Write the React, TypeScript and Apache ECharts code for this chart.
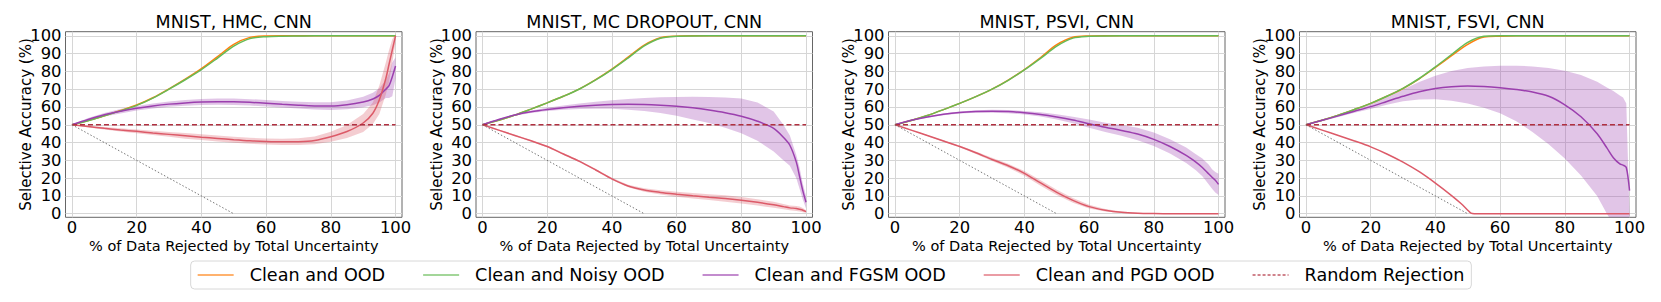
import React, { useEffect, useRef } from 'react';
import * as echarts from 'echarts';

const FONT = 'DejaVu Sans';
const TITLES = ['MNIST, HMC, CNN', 'MNIST, MC DROPOUT, CNN', 'MNIST, PSVI, CNN', 'MNIST, FSVI, CNN'];
const NAMES = ['Clean and OOD', 'Clean and Noisy OOD', 'Clean and FGSM OOD', 'Clean and PGD OOD', 'Random Rejection'];
const X_LABEL = '% of Data Rejected by Total Uncertainty';
const Y_LABEL = 'Selective Accuracy (%)';
const X_TICKS = [0, 20, 40, 60, 80, 100];
const Y_TICKS = [0, 10, 20, 30, 40, 50, 60, 70, 80, 90, 100];

const X = [0, 5, 10, 15, 20, 25, 30, 35, 40, 45, 50, 55, 60, 65, 70, 75, 80, 85, 90, 93, 95, 97, 98, 99, 100];

// HMC
const HMC_ORANGE = [50, 52.4, 55.1, 58, 61.1, 65.2, 70.2, 75.6, 81.5, 88.3, 95.2, 99.1, 99.9, 100, 100, 100, 100, 100, 100, 100, 100, 100, 100, 100, 100];
const HMC_GREEN = [50, 52.3, 55, 57.8, 60.9, 65, 70, 75.3, 81, 87.5, 94.2, 98.4, 99.5, 99.8, 99.9, 100, 100, 100, 100, 100, 100, 100, 100, 100, 100];
const HMC_FGSM = [50, 53, 55.6, 57.6, 59.3, 60.6, 61.6, 62.3, 62.8, 63, 62.9, 62.6, 62.1, 61.5, 61, 60.6, 60.5, 61.2, 62.8, 64.5, 66.5, 70, 72, 77, 83];
const HMC_FGSM_LO = [50, 52.2, 54.6, 56.4, 58, 59.2, 60.1, 60.7, 61.1, 61.2, 61.1, 60.8, 60.3, 59.7, 59.1, 58.6, 58.3, 58.7, 59.8, 61, 62.5, 65, 65, 66, 76];
const HMC_FGSM_HI = [50, 53.8, 56.6, 58.8, 60.6, 62, 63.1, 63.9, 64.5, 64.8, 64.7, 64.4, 63.9, 63.3, 62.9, 62.6, 62.7, 63.7, 65.8, 68, 70.5, 75, 79, 85, 88];
const HMC_PGD = [50, 49, 48, 47.1, 46.3, 45.4, 44.6, 43.8, 43, 42.3, 41.6, 41, 40.6, 40.4, 40.5, 41.2, 43.3, 46.2, 51, 56.5, 64, 76, 84, 92, 100];
const HMC_PGD_LO = [50, 48.5, 47.3, 46.2, 45.2, 44.2, 43.2, 42.2, 41.4, 40.6, 39.9, 39.3, 38.9, 38.6, 38.6, 39, 40.5, 42.5, 46, 50.5, 56, 67, 74, 85, 96];
const HMC_PGD_HI = [50, 49.5, 48.7, 48, 47.4, 46.6, 46, 45.4, 44.7, 44, 43.3, 42.7, 42.3, 42.2, 42.4, 43.4, 46.1, 49.9, 56, 62.5, 72, 85, 92, 98, 101];

// MC Dropout
const MCD_ORANGE = [50, 52.5, 55.4, 58.8, 62.3, 66, 70.2, 75.4, 81.3, 88, 94.8, 98.9, 99.8, 100, 100, 100, 100, 100, 100, 100, 100, 100, 100, 100, 100];
const MCD_GREEN = [50, 52.5, 55.4, 58.8, 62.3, 66, 70.1, 75.2, 81, 87.5, 94.3, 98.6, 99.7, 99.9, 100, 100, 100, 100, 100, 100, 100, 100, 100, 100, 100];
const MCD_FGSM = [50, 53, 55.5, 57.3, 58.6, 59.6, 60.4, 61, 61.4, 61.5, 61.4, 61, 60.4, 59.5, 58.3, 56.8, 54.8, 52, 48, 43, 38.5, 29, 21, 13, 6.5];
const MCD_FGSM_LO = [50, 52.7, 55, 56.6, 57.7, 58.4, 58.8, 59, 59, 58.5, 57.8, 56.6, 55, 53, 51, 48.3, 45.3, 41, 35, 30, 27, 20, 14, 8, 3];
const MCD_FGSM_HI = [50, 53.3, 56, 58, 59.5, 60.8, 62, 63, 63.8, 64.5, 65, 65.4, 65.6, 65.7, 65.6, 65.3, 64.8, 62.5, 57.5, 50, 44, 33, 26, 17, 10];
const MCD_PGD = [50, 47, 44, 41, 37.8, 33.6, 29.4, 24.6, 19.6, 15.6, 13.3, 12, 11, 10.1, 9.3, 8.6, 7.6, 6.4, 5, 4, 3.3, 3, 2.5, 2, 1.2];
const MCD_PGD_LO = [50, 46.7, 43.6, 40.6, 37.3, 33.1, 28.9, 24.1, 19, 14.9, 12.3, 10.8, 9.6, 8.6, 7.7, 6.8, 5.8, 4.6, 3.3, 2.5, 2, 1.6, 1.2, 0.8, 0.5];
const MCD_PGD_HI = [50, 47.3, 44.4, 41.4, 38.3, 34.1, 29.9, 25.1, 20.2, 16.3, 14.3, 13.2, 12.4, 11.6, 10.9, 10.4, 9.4, 8.2, 6.7, 5.5, 4.6, 4.4, 4, 3.2, 2];

// PSVI
const PSVI_ORANGE = [50, 52.4, 55.2, 58.5, 62, 65.8, 70, 75.1, 81, 87.8, 95, 99.2, 99.9, 100, 100, 100, 100, 100, 100, 100, 100, 100, 100, 100, 100];
const PSVI_GREEN = [50, 52.4, 55.2, 58.5, 62, 65.8, 70, 75, 80.8, 87.3, 94.2, 98.7, 99.7, 99.9, 100, 100, 100, 100, 100, 100, 100, 100, 100, 100, 100];
const PSVI_FGSM = [50, 52.5, 54.4, 55.9, 56.9, 57.4, 57.6, 57.4, 56.8, 55.8, 54.4, 52.7, 50.6, 48.6, 46.8, 44.8, 41.8, 37.8, 32.8, 29, 26, 22.3, 20.5, 18.8, 16.5];
const PSVI_FGSM_LO = [50, 52.2, 54, 55.4, 56.3, 56.7, 56.8, 56.5, 55.8, 54.6, 52.9, 50.9, 48.3, 46, 43.8, 41.3, 38, 33.8, 28.5, 24.5, 21, 16.5, 14, 12, 10.5];
const PSVI_FGSM_HI = [50, 52.8, 54.8, 56.4, 57.5, 58.1, 58.4, 58.3, 57.8, 57, 55.9, 54.5, 52.9, 51.2, 49.8, 48.3, 45.6, 41.8, 37.2, 33.5, 31, 27.5, 25, 23.5, 22.5];
const PSVI_PGD = [50, 47, 44, 40.9, 37.8, 34.3, 30.5, 27, 22.7, 17.3, 12, 7.5, 4, 2, 0.8, 0.3, 0.1, 0, 0, 0, 0, 0, 0, 0, 0];
const PSVI_PGD_LO = [50, 46.8, 43.7, 40.5, 37.3, 33.6, 29.6, 25.9, 21.4, 15.8, 10.5, 6.2, 3, 1.3, 0.4, 0.1, 0, 0, 0, 0, 0, 0, 0, 0, 0];
const PSVI_PGD_HI = [50, 47.2, 44.3, 41.3, 38.3, 35, 31.4, 28.1, 24, 18.8, 13.5, 8.8, 5, 2.7, 1.2, 0.5, 0.2, 0.1, 0, 0, 0, 0, 0, 0, 0];

// FSVI
const FSVI_ORANGE = [50, 52.5, 55.4, 58.6, 62, 66, 70.4, 75.8, 82.2, 88.8, 95.2, 99.3, 99.8, 100, 100, 100, 100, 100, 100, 100, 100, 100, 100, 100, 100];
const FSVI_GREEN = [50, 52.5, 55.4, 58.6, 62, 66, 70.5, 76, 82.5, 89.5, 96.3, 99.7, 100, 100, 100, 100, 100, 100, 100, 100, 100, 100, 100, 100, 100];
const FSVI_FGSM = [50, 52.5, 55, 57.6, 60.2, 63.1, 66, 68.6, 70.4, 71.4, 71.8, 71.5, 70.8, 69.8, 68.4, 66, 61.2, 54.5, 45, 37, 31.5, 28, 27.3, 26, 13];
const FSVI_FGSM_LO = [50, 52, 54.4, 56.7, 58.9, 61.2, 63.2, 64.2, 64.3, 63.5, 62, 59.5, 56.5, 52, 46, 39, 31, 21.5, 10, 0, -6, -12, -15, -18, -20];
const FSVI_FGSM_HI = [50, 53, 55.7, 58.6, 61.6, 65.4, 69.8, 74, 77.5, 80.2, 81.9, 82.8, 83.2, 83.2, 82.8, 81.9, 80.3, 78, 74.2, 71, 69, 66.5, 65.3, 62, 0];
const FSVI_PGD_X = [0, 5, 10, 15, 20, 25, 30, 35, 40, 45, 48, 50, 51, 52, 60, 70, 80, 90, 100];
const FSVI_PGD = [50, 47, 44, 40.9, 37.6, 33.6, 29, 23.6, 17.2, 10.2, 5.6, 2, 0.3, 0, 0, 0, 0, 0, 0];

const ORACLE_X = [0, 50];
const ORACLE_Y = [50, 0];
const RANDOM_X = [0, 100];
const RANDOM_Y = [50, 50];

const PANELS = [
  { orange: HMC_ORANGE, green: HMC_GREEN, fgsm: HMC_FGSM, fgsmLo: HMC_FGSM_LO, fgsmHi: HMC_FGSM_HI, pgdX: X, pgd: HMC_PGD, pgdLo: HMC_PGD_LO, pgdHi: HMC_PGD_HI },
  { orange: MCD_ORANGE, green: MCD_GREEN, fgsm: MCD_FGSM, fgsmLo: MCD_FGSM_LO, fgsmHi: MCD_FGSM_HI, pgdX: X, pgd: MCD_PGD, pgdLo: MCD_PGD_LO, pgdHi: MCD_PGD_HI },
  { orange: PSVI_ORANGE, green: PSVI_GREEN, fgsm: PSVI_FGSM, fgsmLo: PSVI_FGSM_LO, fgsmHi: PSVI_FGSM_HI, pgdX: X, pgd: PSVI_PGD, pgdLo: PSVI_PGD_LO, pgdHi: PSVI_PGD_HI },
  { orange: FSVI_ORANGE, green: FSVI_GREEN, fgsm: FSVI_FGSM, fgsmLo: FSVI_FGSM_LO, fgsmHi: FSVI_FGSM_HI, pgdX: FSVI_PGD_X, pgd: FSVI_PGD, pgdLo: null, pgdHi: null },
];

const C_ORANGE = '#ff7f0e';
const C_GREEN = '#66bb55';
const C_PURPLE = '#9b3fae';
const C_PINK = '#dc5a68';
const C_RANDOM = '#b03040';
const C_ORACLE = '#777777';

const GRID_LEFTS = [65.5, 476, 888.5, 1299.5];
const GRID_W = 336.5;
const GRID_TOP = 31.7;
const GRID_H = 185.6;

const pairs = (xs: number[], ys: number[]) => xs.map((x, i) => [x, ys[i]]);

function bandSeries(i: number, name: string, xs: number[], lo: number[], hi: number[], color: string) {
  return {
    type: 'custom',
    name,
    xAxisIndex: i,
    yAxisIndex: i,
    clip: true,
    silent: true,
    data: xs.map((x, k) => [x, lo[k], hi[k]]),
    encode: { x: 0, y: [1, 2] },
    renderItem: (params: any, api: any) => {
      if (params.dataIndex !== 0) return null;
      const upper = xs.map((x, k) => api.coord([x, hi[k]]));
      const lower = xs.map((x, k) => api.coord([x, lo[k]])).reverse();
      return {
        type: 'polygon',
        shape: { points: upper.concat(lower) },
        style: { fill: color, opacity: 0.3 },
      };
    },
  };
}

function buildOption() {
  const grid: any[] = [];
  const xAxis: any[] = [];
  const yAxis: any[] = [];
  const title: any[] = [];
  const series: any[] = [];

  PANELS.forEach((p, i) => {
    grid.push({
      left: GRID_LEFTS[i], top: GRID_TOP, width: GRID_W, height: GRID_H,
      show: true, borderColor: '#666', borderWidth: 1, backgroundColor: 'transparent',
      outerBoundsMode: 'none', containLabel: false,
    });
    title.push({
      text: TITLES[i], left: GRID_LEFTS[i] + GRID_W / 2, top: 13, textAlign: 'center', padding: 0,
      textStyle: { fontFamily: FONT, fontSize: 17.5, fontWeight: 'normal', color: '#000' },
    });
    xAxis.push({
      gridIndex: i, type: 'value', min: -2, max: 102,
      axisLine: { show: false },
      axisTick: { show: false, customValues: X_TICKS },
      axisLabel: { customValues: X_TICKS, fontFamily: FONT, fontSize: 16.4, color: '#000', margin: 2 },
      splitLine: { show: true, lineStyle: { color: '#d6d6d6', width: 1 } },
      name: X_LABEL, nameLocation: 'middle', nameGap: 21, nameMoveOverlap: false,
      nameTextStyle: { fontFamily: FONT, fontSize: 14.5, color: '#000', verticalAlign: 'top' },
    });
    yAxis.push({
      gridIndex: i, type: 'value', min: -2, max: 102.3,
      axisLine: { show: false },
      axisTick: { show: false, customValues: Y_TICKS },
      axisLabel: { customValues: Y_TICKS, fontFamily: FONT, fontSize: 16.4, color: '#000', margin: 4 },
      splitLine: { show: true, lineStyle: { color: '#d6d6d6', width: 1 } },
      name: Y_LABEL, nameLocation: 'middle', nameGap: 32, nameMoveOverlap: false,
      nameTextStyle: { fontFamily: FONT, fontSize: 15, color: '#000' },
    });

    series.push(bandSeries(i, `fgsm-band-${i}`, X, p.fgsmLo, p.fgsmHi, C_PURPLE));
    if (p.pgdLo && p.pgdHi) series.push(bandSeries(i, `pgd-band-${i}`, p.pgdX, p.pgdLo, p.pgdHi, C_PINK));

    const base = { type: 'line', xAxisIndex: i, yAxisIndex: i, symbol: 'none', smooth: 0.3, silent: true };
    series.push({ ...base, name: NAMES[0], data: pairs(X, p.orange), lineStyle: { color: C_ORANGE, width: 1.5 }, itemStyle: { color: C_ORANGE } });
    series.push({ ...base, name: NAMES[1], data: pairs(X, p.green), lineStyle: { color: C_GREEN, width: 1.5 }, itemStyle: { color: C_GREEN } });
    series.push({ ...base, name: NAMES[2], data: pairs(X, p.fgsm), lineStyle: { color: C_PURPLE, width: 1.5 }, itemStyle: { color: C_PURPLE } });
    series.push({ ...base, name: NAMES[3], data: pairs(p.pgdX, p.pgd), lineStyle: { color: C_PINK, width: 1.5 }, itemStyle: { color: C_PINK } });
    series.push({ ...base, name: NAMES[4], smooth: false, data: pairs(RANDOM_X, RANDOM_Y), lineStyle: { color: C_RANDOM, width: 1.5, type: [5, 3] }, itemStyle: { color: C_RANDOM } });
    series.push({ ...base, name: `oracle-${i}`, smooth: false, data: pairs(ORACLE_X, ORACLE_Y), lineStyle: { color: C_ORACLE, width: 1, type: [1.5, 2] } });
  });

  const legendColors = [C_ORANGE, C_GREEN, C_PURPLE, C_PINK, C_RANDOM];
  return {
    animation: false,
    backgroundColor: '#fff',
    title,
    grid,
    xAxis,
    yAxis,
    series,
    legend: {
      data: NAMES.map((n, k) => ({
        name: n,
        itemStyle: { color: legendColors[k], opacity: 0 },
        lineStyle: { color: legendColors[k], opacity: 0.6, width: 2, type: k === 4 ? [3, 2] : 'solid' },
      })),
      left: 'center', top: 261,
      itemWidth: 36, itemHeight: 14, itemGap: 37,
      padding: [5, 7, 5, 6],
      borderColor: '#d8d8d8', borderWidth: 1, borderRadius: 4,
      backgroundColor: '#fff',
      selectedMode: false,
      textStyle: { fontFamily: FONT, fontSize: 17.6, color: '#000', padding: [0, 0, 0, 11] },
    },
  };
}

export default function App() {
  const ref = useRef<HTMLDivElement>(null);
  useEffect(() => {
    if (!ref.current) return;
    const chart = echarts.init(ref.current, undefined, { renderer: 'svg' });
    chart.setOption(buildOption() as any);
    return () => chart.dispose();
  }, []);
  return <div ref={ref} style={{ position: 'absolute', left: 0, top: 0, width: 1661, height: 302 }} />;
}
